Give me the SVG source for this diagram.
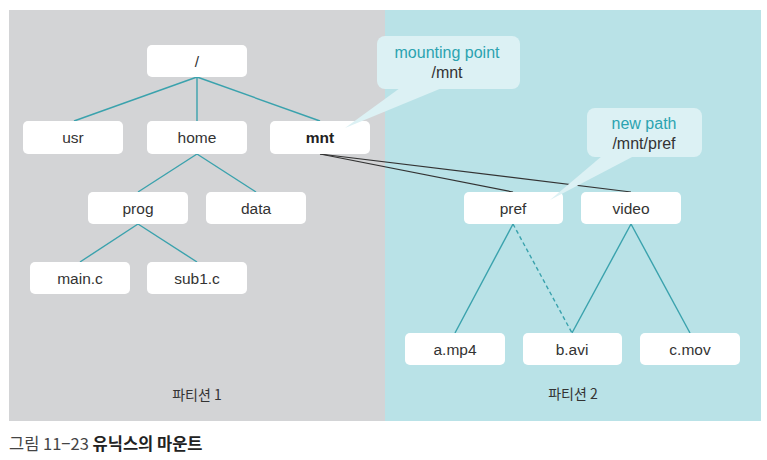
<svg xmlns="http://www.w3.org/2000/svg" width="767" height="460" viewBox="0 0 767 460">
<style>
.node rect{fill:#ffffff;}
.node text{font-family:"Liberation Sans","Noto Sans CJK KR",sans-serif;font-size:15.5px;fill:#333;text-anchor:middle;}
.t{stroke:#3aa2ad;stroke-width:1.4;fill:none;}
.k{stroke:#333;stroke-width:1.2;fill:none;}
.lbl{font-family:"Noto Sans CJK KR","Liberation Sans",sans-serif;font-size:14px;fill:#333;text-anchor:middle;}
.co{fill:#dcf1f4;}
.cot{font-family:"Liberation Sans",sans-serif;font-size:16px;text-anchor:middle;}
</style>
<rect x="0" y="0" width="767" height="460" fill="#ffffff"/>
<rect x="9" y="10" width="376" height="411" fill="#d3d4d6"/>
<rect x="385" y="10" width="376" height="411" fill="#b9e2e7"/>

<g id="connectors">
<line class="t" x1="197" y1="77" x2="74" y2="121"/>
<line class="t" x1="197" y1="77" x2="197" y2="121"/>
<line class="t" x1="197" y1="77" x2="320" y2="121"/>
<line class="t" x1="197" y1="154" x2="138" y2="192"/>
<line class="t" x1="197" y1="154" x2="256" y2="192"/>
<line class="t" x1="138" y1="224" x2="80" y2="262"/>
<line class="t" x1="138" y1="224" x2="197" y2="262"/>
<line class="k" x1="320" y1="154" x2="513" y2="192"/>
<line class="k" x1="320" y1="154" x2="631" y2="192"/>
<line class="t" x1="513" y1="224" x2="455" y2="333"/>
<line class="t" x1="513" y1="224" x2="572" y2="333" stroke-dasharray="4,3"/>
<line class="t" x1="631" y1="224" x2="572" y2="333"/>
<line class="t" x1="631" y1="224" x2="690" y2="333"/>
</g>

<g id="n-root" class="node"><rect x="147" y="45" width="100" height="32" rx="5"/><text x="197" y="67">/</text></g>
<g id="n-usr" class="node"><rect x="23" y="121" width="100" height="33" rx="5"/><text x="73" y="143">usr</text></g>
<g id="n-home" class="node"><rect x="147" y="121" width="100" height="33" rx="5"/><text x="197" y="143">home</text></g>
<g id="n-mnt" class="node"><rect x="270" y="121" width="100" height="33" rx="5"/><text x="320" y="143" font-weight="bold" style="fill:#222">mnt</text></g>
<g id="n-prog" class="node"><rect x="88" y="192" width="100" height="32" rx="5"/><text x="138" y="214">prog</text></g>
<g id="n-data" class="node"><rect x="206" y="192" width="100" height="32" rx="5"/><text x="256" y="214">data</text></g>
<g id="n-main" class="node"><rect x="30" y="262" width="100" height="32" rx="5"/><text x="80" y="284">main.c</text></g>
<g id="n-sub1" class="node"><rect x="147" y="262" width="100" height="32" rx="5"/><text x="197" y="284">sub1.c</text></g>
<g id="n-pref" class="node"><rect x="464" y="192" width="99" height="32" rx="5"/><text x="513" y="214">pref</text></g>
<g id="n-video" class="node"><rect x="581" y="192" width="100" height="32" rx="5"/><text x="631" y="214">video</text></g>
<g id="n-amp4" class="node"><rect x="405" y="333" width="100" height="32" rx="5"/><text x="455" y="355">a.mp4</text></g>
<g id="n-bavi" class="node"><rect x="523" y="333" width="99" height="32" rx="5"/><text x="572" y="355">b.avi</text></g>
<g id="n-cmov" class="node"><rect x="640" y="333" width="100" height="32" rx="5"/><text x="690" y="355">c.mov</text></g>

<g id="callout-mount">
<rect class="co" x="377" y="36" width="143" height="53" rx="8"/>
<polygon class="co" points="400,88 442,88 345,128"/>
<text class="cot" x="447" y="58" fill="#2ba3b0">mounting point</text>
<text class="cot" x="447" y="78" fill="#333">/mnt</text>
</g>
<g id="callout-newpath">
<rect class="co" x="587" y="108" width="115" height="49" rx="8"/>
<polygon class="co" points="602,156 634,156 550,200"/>
<text class="cot" x="644" y="129" fill="#2ba3b0">new path</text>
<text class="cot" x="644" y="149" fill="#333">/mnt/pref</text>
</g>

<text class="lbl" x="197" y="400">파티션 1</text>
<text class="lbl" x="573" y="399">파티션 2</text>
<text x="9" y="450" font-family="'Noto Sans CJK KR',sans-serif" font-size="16.5" fill="#444">그림 11−23 <tspan font-weight="bold" fill="#222">유닉스의 마운트</tspan></text>
</svg>
